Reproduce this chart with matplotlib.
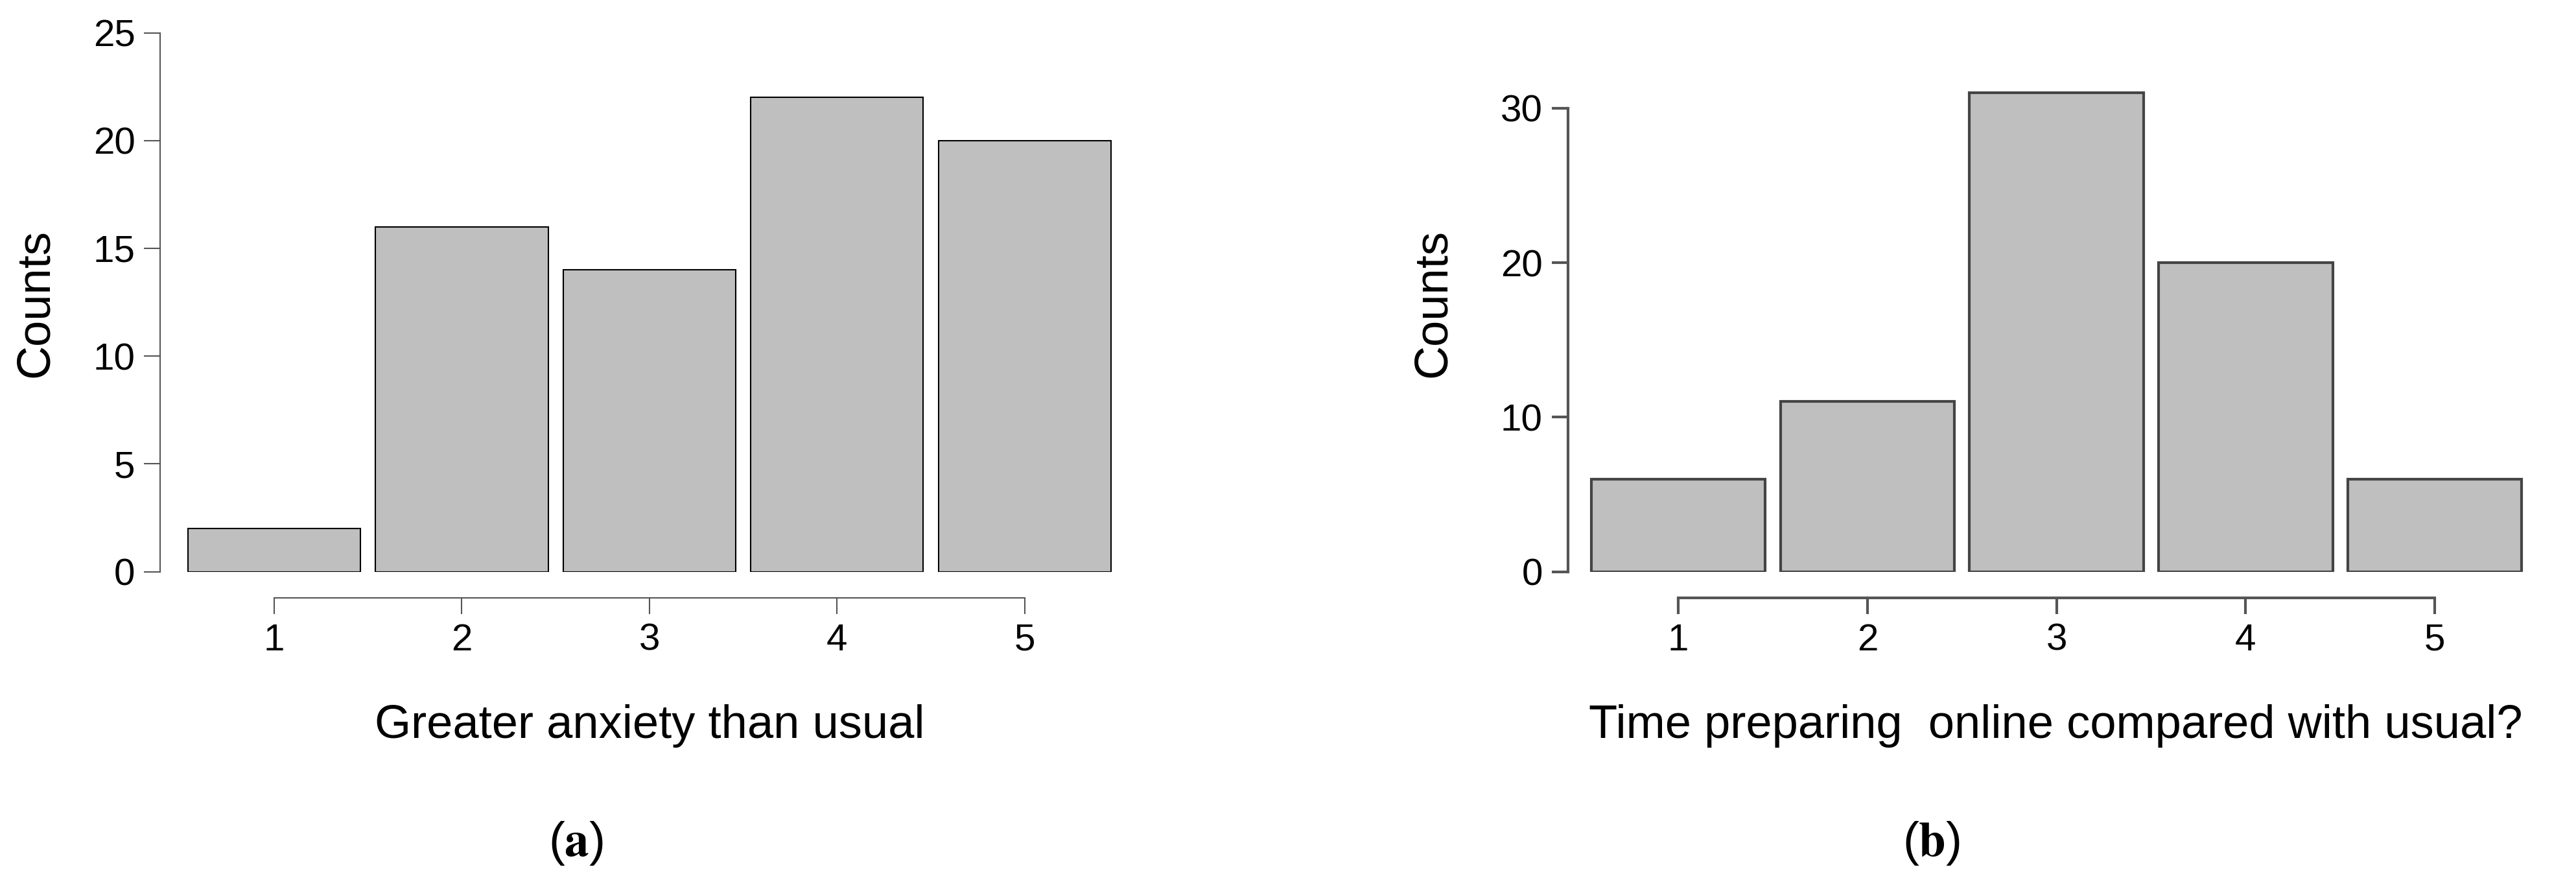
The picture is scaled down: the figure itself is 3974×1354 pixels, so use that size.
import matplotlib.pyplot as plt

plt.rcParams['font.family'] = ['Liberation Sans', 'DejaVu Sans']
plt.rcParams['mathtext.fontset'] = 'stix'

categories = [1, 2, 3, 4, 5]
anxiety_counts = [2, 16, 14, 22, 20]
prep_counts = [6, 11, 31, 20, 6]

W, H = 1574.0, 536.0  # reference layout units


def box(x0, x1, ytop, ybot):
    return [x0 / W, 1 - ybot / H, (x1 - x0) / W, (ybot - ytop) / H]


fig = plt.figure(figsize=(39.74, 13.54), dpi=100)


def panel(rect, counts, xlim, ymax, yticks, xlabel, label_xy, ylabel_x, tag_xy, tag,
          edge, lw):
    ax = fig.add_axes(rect)
    ax.bar(categories, counts, width=0.92, color='#bfbfbf', edgecolor=edge, linewidth=lw)
    ax.set_xlim(*xlim)
    ax.set_ylim(0, ymax)
    ax.set_yticks(yticks)
    ax.set_xticks(categories)
    for s in ['top', 'right']:
        ax.spines[s].set_visible(False)
    ax.spines['left'].set_bounds(0, yticks[-1])
    ax.spines['bottom'].set_bounds(1, 5)
    ax.spines['bottom'].set_position(('outward', 29))
    for s in ['left', 'bottom']:
        ax.spines[s].set_color('#555555')
        ax.spines[s].set_linewidth(lw)
    ax.tick_params(axis='both', length=18, width=lw, color='#555555', labelsize=42, pad=10)
    fig.text(label_xy[0] / W, 1 - label_xy[1] / H, xlabel, fontsize=52, ha='center', va='center')
    fig.text(ylabel_x / W, 1 - 185 / H, 'Counts',
             fontsize=52, rotation=90, ha='center', va='center')
    fig.text(tag_xy[0] / W, 1 - tag_xy[1] / H, r'($\mathbf{%s}$)' % tag, fontsize=54,
             ha='center', va='center')
    return ax


panel(box(98, 680, 20, 349), anxiety_counts, (0.394, 5.47), 25, [0, 5, 10, 15, 20, 25],
      'Greater anxiety than usual', (397, 443), 22, (352, 515), 'a', 'black', 1.5)
panel(box(958, 1542, 20, 349), prep_counts, (0.416, 5.47), 30 * 329 / 283, [0, 10, 20, 30],
      'Time preparing  online compared with usual?', (1256, 443), 876, (1180, 515), 'b',
      '#444444', 3)

fig.savefig('out.png', dpi=100)
